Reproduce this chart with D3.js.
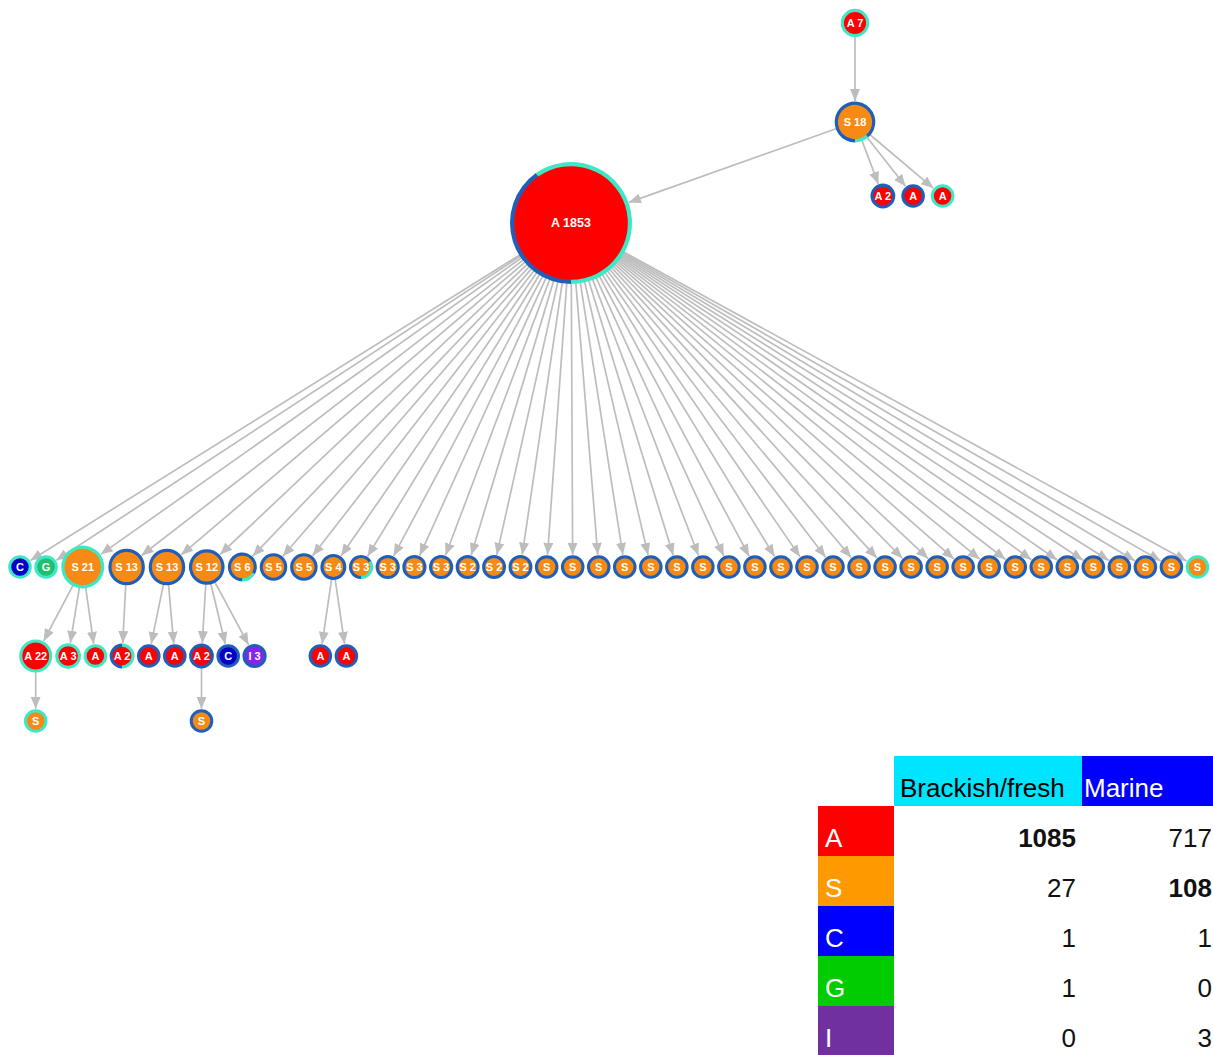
<!DOCTYPE html>
<html>
<head>
<meta charset="utf-8">
<script src="https://d3js.org/d3.v7.min.js"></script>
<style>
  body { margin: 0; background: #fff; }
  svg text { font-family: "Liberation Sans", Arial, Helvetica, sans-serif; }
  .lbl { fill: #fff; font-weight: bold; text-anchor: middle; }
  .edge { stroke: #bdbdbd; stroke-width: 1.7; fill: none; }
</style>
</head>
<body>
<script>
// ---- graph data: one entry per node (parent = index of parent node, -1 for root)
var nodeType = [
  "A", "S", "A", "A", "A", "A",
  "C", "G", "S", "S", "S", "S", "S", "S", "S", "S", "S", "S", "S", "S", "S", "S", "S",
  "S", "S", "S", "S", "S", "S", "S", "S", "S", "S", "S", "S", "S",
  "S", "S", "S", "S", "S", "S", "S", "S", "S", "S", "S", "S", "S",
  "A", "A", "A", "A", "A", "A", "A", "C", "I", "A", "A",
  "S", "S"
];
var nodeCount = [
  7, 18, 1853, 2, 1, 1,
  1, 1, 21, 13, 13, 12, 6, 5, 5, 4, 3, 3, 3, 3, 2, 2, 2,
  1, 1, 1, 1, 1, 1, 1, 1, 1, 1, 1, 1, 1,
  1, 1, 1, 1, 1, 1, 1, 1, 1, 1, 1, 1, 1,
  22, 3, 1, 2, 1, 1, 2, 1, 3, 1, 1,
  1, 1
];
var nodeParent = [
  -1, 0, 1, 1, 1, 1,
  2, 2, 2, 2, 2, 2, 2, 2, 2, 2, 2, 2, 2, 2, 2, 2, 2,
  2, 2, 2, 2, 2, 2, 2, 2, 2, 2, 2, 2, 2,
  2, 2, 2, 2, 2, 2, 2, 2, 2, 2, 2, 2, 2,
  8, 8, 8, 9, 10, 10, 11, 11, 11, 15, 15,
  49, 55
];
// habitat split of each node (drawn as the ring)
var nodeBrackish = [
  7, 2, 1050, 0, 0, 1,
  1, 1, 21, 0, 0, 0, 1, 0, 0, 0, 1, 0, 0, 0, 0, 0, 0,
  0, 0, 0, 0, 0, 0, 0, 0, 0, 0, 0, 0, 0,
  0, 0, 0, 0, 0, 0, 0, 0, 0, 0, 0, 0, 1,
  22, 3, 1, 1, 0, 0, 0, 0, 0, 0, 0,
  1, 0
];
var nodeMarine = [
  0, 16, 707, 2, 1, 0,
  0, 0, 0, 13, 13, 12, 5, 5, 5, 4, 2, 3, 3, 3, 2, 2, 2,
  1, 1, 1, 1, 1, 1, 1, 1, 1, 1, 1, 1, 1,
  1, 1, 1, 1, 1, 1, 1, 1, 1, 1, 1, 1, 0,
  0, 0, 0, 1, 1, 1, 2, 1, 3, 1, 1,
  0, 1
];

// ---- summary table
var tableTypes = ["A", "S", "C", "G", "I"];
var habitats = ["Brackish/fresh", "Marine"];
var brackishTotals = [1085, 27, 1, 1, 0];
var marineTotals = [717, 108, 1, 0, 3];
var enrichedIn = ["Brackish/fresh", "Marine", null, null, null];

var W = 1213, H = 1055;

var typeFill = d3.scaleOrdinal()
  .domain(["A", "S", "C", "G", "I"])
  .range(["#ff0000", "#f78a14", "#0000c8", "#1fbf6f", "#8b22f0"]);
var tableFill = d3.scaleOrdinal()
  .domain(tableTypes)
  .range(["#ff0000", "#ff9900", "#0000ff", "#00cc00", "#7030a0"]);
var habitatFill = d3.scaleOrdinal().domain(habitats).range(["#00e5ff", "#0000ff"]);
var habitatText = d3.scaleOrdinal().domain(habitats).range(["#000", "#fff"]);
var ringColor = ["#1f5fb9", "#3ee8c4"];   // marine, brackish

var rA = d3.scalePow().exponent(0.5).domain([1, 7, 1853]).range([11.8, 14.2, 61]);
var rOther = d3.scalePow().exponent(0.5).domain([1, 3, 21]).range([11.8, 12.1, 21.5]);
var spread = 1.103;   // centre distance / sum of radii
var leafSpread = 1.25;

var svg = d3.select("body").append("svg")
  .attr("width", W)
  .attr("height", H);

var nodes = nodeType.map(function(t, i) {
  return { id: i, type: t, count: nodeCount[i], parent: nodeParent[i],
           b: nodeBrackish[i], m: nodeMarine[i], children: [] };
});
nodes.forEach(function(n) {
  n.r = (n.type == "A" ? rA : rOther)(n.count);
  if (n.parent >= 0) nodes[n.parent].children.push(n);
  n.depth = n.parent < 0 ? 0 : nodes[n.parent].depth + 1;
});
var hub = nodes.reduce(function(a, n) { return n.children.length > a.children.length ? n : a; });

// ---- layout
function rowOf(n) {
  if (n === hub) return "hub";
  if (n.depth > hub.depth) return "r" + (n.depth - hub.depth);
  if (n.depth == hub.depth) return "leaf";
  return n.depth == 0 ? "root" : "mid";
}
var yRow = d3.scaleOrdinal()
  .domain(["root", "mid", "leaf", "hub", "r1", "r2", "r3"])
  .range([23, 122, 196, 223, 567, 656, 721]);
var xAnchor = d3.scaleOrdinal().domain(["top", "hub", "left"]).range([855, 571, 20]);

nodes.forEach(function(n) { n.row = rowOf(n); n.y = yRow(n.row); });

// top column
nodes.filter(function(n) { return n.row == "root" || n.row == "mid"; })
  .forEach(function(n) { n.x = xAnchor("top"); });
hub.x = xAnchor("hub");
var leaves = nodes.filter(function(n) { return n.row == "leaf"; });
leaves.forEach(function(n, i) {
  var p = nodes[n.parent];
  n.x = i == 0 ? p.x + (p.r + n.r) * 0.85 : leaves[i - 1].x + (leaves[i - 1].r + n.r) * leafSpread;
});

// first row under the hub: packed from the left
hub.children.forEach(function(n, i) {
  var prev = hub.children[i - 1];
  n.x = i == 0 ? xAnchor("left") : prev.x + (prev.r + n.r) * spread;
});

// lower rows: children centred under parents, overlapping groups merged
function packRow(rowNodes) {
  var groups = d3.groups(rowNodes, function(n) { return n.parent; })
    .map(function(g) { return { px: nodes[g[0]].x, ns: g[1] }; })
    .sort(function(a, b) { return a.px - b.px; });
  var blocks = [];
  groups.forEach(function(g) {
    var rel = [0];
    for (var i = 1; i < g.ns.length; i++) rel.push(rel[i - 1] + (g.ns[i - 1].r + g.ns[i].r) * spread);
    var mean = d3.mean(rel);
    var blk = { ns: g.ns.slice(), rel: rel, v: rel.map(function() { return g.px - mean; }) };
    blk.pos = d3.mean(blk.v);
    while (blocks.length) {
      var prev = blocks[blocks.length - 1];
      var last = prev.ns[prev.ns.length - 1], first = blk.ns[0];
      var off = prev.rel[prev.rel.length - 1] + (last.r + first.r) * spread;
      if (blk.pos >= prev.pos + off) break;
      blk = { ns: prev.ns.concat(blk.ns),
              rel: prev.rel.concat(blk.rel.map(function(r) { return r + off; })),
              v: prev.v.concat(blk.v.map(function(v) { return v - off; })) };
      blk.pos = d3.mean(blk.v);
      blocks.pop();
    }
    blocks.push(blk);
  });
  blocks.forEach(function(b) { b.ns.forEach(function(n, i) { n.x = b.pos + b.rel[i]; }); });
}
["r2", "r3"].forEach(function(row) {
  packRow(nodes.filter(function(n) { return n.row == row; }));
});

// ---- edges
svg.append("defs").append("marker")
  .attr("id", "arrow")
  .attr("viewBox", "0 -5 12 10")
  .attr("refX", 12)
  .attr("refY", 0)
  .attr("markerUnits", "userSpaceOnUse")
  .attr("markerWidth", 12)
  .attr("markerHeight", 10)
  .attr("orient", "auto")
  .append("path")
  .attr("d", "M0,-5L12,0L0,5Z")
  .attr("fill", "#bdbdbd");

var links = nodes.filter(function(n) { return n.parent >= 0; })
  .map(function(n) { return { s: nodes[n.parent], t: n }; });

function endPoint(d, k) {
  var dx = d.t.x - d.s.x, dy = d.t.y - d.s.y, L = Math.sqrt(dx * dx + dy * dy);
  return k == "x" ? d.t.x - dx / L * (d.t.r + 0.5) : d.t.y - dy / L * (d.t.r + 0.5);
}

svg.append("g").selectAll("line")
  .data(links)
  .enter()
  .append("line")
  .attr("class", "edge")
  .attr("marker-end", "url(#arrow)")
  .attr("x1", function(d) { return d.s.x; })
  .attr("y1", function(d) { return d.s.y; })
  .attr("x2", function(d) { return endPoint(d, "x"); })
  .attr("y2", function(d) { return endPoint(d, "y"); });

// ---- nodes
var pie = d3.pie().sort(null).startAngle(Math.PI).endAngle(3 * Math.PI);
var arc = d3.arc();

var node = svg.append("g").selectAll("g")
  .data(nodes)
  .enter()
  .append("g")
  .attr("transform", function(d) { return "translate(" + d.x + "," + d.y + ")"; });

node.each(function(d) { d.ring = 2.8 + d.r * 0.022; });

node.append("circle")
  .attr("r", function(d) { return d.r - d.ring / 2; })
  .attr("fill", function(d) { return typeFill(d.type); });

node.selectAll("path")
  .data(function(d) {
    return pie([d.m, d.b]).map(function(a, i) {
      a.innerRadius = d.r - d.ring;
      a.outerRadius = d.r;
      a.color = ringColor[i];
      return a;
    });
  })
  .enter()
  .append("path")
  .attr("d", arc)
  .attr("fill", function(a) { return a.color; });

node.append("text")
  .attr("class", "lbl")
  .attr("dy", "0.35em")
  .style("font-size", function(d) { return d === hub ? "12.5px" : "11px"; })
  .text(function(d) { return d.count > 1 ? d.type + " " + d.count : d.type; });

// ---- summary table
var colX = d3.scaleOrdinal().domain(["type"].concat(habitats)).range([818, 894, 1082]);
var colW = d3.scaleOrdinal().domain(["type"].concat(habitats)).range([76, 188, 131]);
var rowY = d3.scaleBand().domain(["head"].concat(tableTypes)).range([756, 1056]);

var table = svg.append("g");

var head = table.selectAll(".head")
  .data(habitats)
  .enter()
  .append("g")
  .attr("class", "head");
head.append("rect")
  .attr("x", function(h) { return colX(h); })
  .attr("y", rowY("head"))
  .attr("width", function(h) { return colW(h); })
  .attr("height", rowY.bandwidth())
  .attr("fill", function(h) { return habitatFill(h); });
head.append("text")
  .attr("x", function(h, i) { return colX(h) + (i == 0 ? 6 : 2); })
  .attr("y", rowY("head") + 41)
  .attr("fill", function(h) { return habitatText(h); })
  .style("font-size", "26px")
  .text(function(h) { return h; });

var rows = table.selectAll(".trow")
  .data(tableTypes)
  .enter()
  .append("g")
  .attr("class", "trow")
  .attr("transform", function(t) { return "translate(0," + rowY(t) + ")"; });
rows.append("rect")
  .attr("x", colX("type"))
  .attr("width", colW("type"))
  .attr("height", rowY.bandwidth())
  .attr("fill", function(t) { return tableFill(t); });
rows.append("text")
  .attr("x", colX("type") + 7)
  .attr("y", 41)
  .attr("fill", "#fff")
  .style("font-size", "26px")
  .text(function(t) { return t; });

rows.selectAll(".val")
  .data(function(t, i) {
    return [
      { h: habitats[0], v: brackishTotals[i], bold: enrichedIn[i] == habitats[0] },
      { h: habitats[1], v: marineTotals[i], bold: enrichedIn[i] == habitats[1] }
    ];
  })
  .enter()
  .append("text")
  .attr("class", "val")
  .attr("x", function(d, j) { return colX(d.h) + colW(d.h) - (j == 0 ? 6 : 1); })
  .attr("y", 41)
  .attr("text-anchor", "end")
  .attr("fill", "#111")
  .style("font-size", "26px")
  .style("font-weight", function(d) { return d.bold ? "bold" : "normal"; })
  .text(function(d) { return d.v; });
</script>
</body>
</html>
